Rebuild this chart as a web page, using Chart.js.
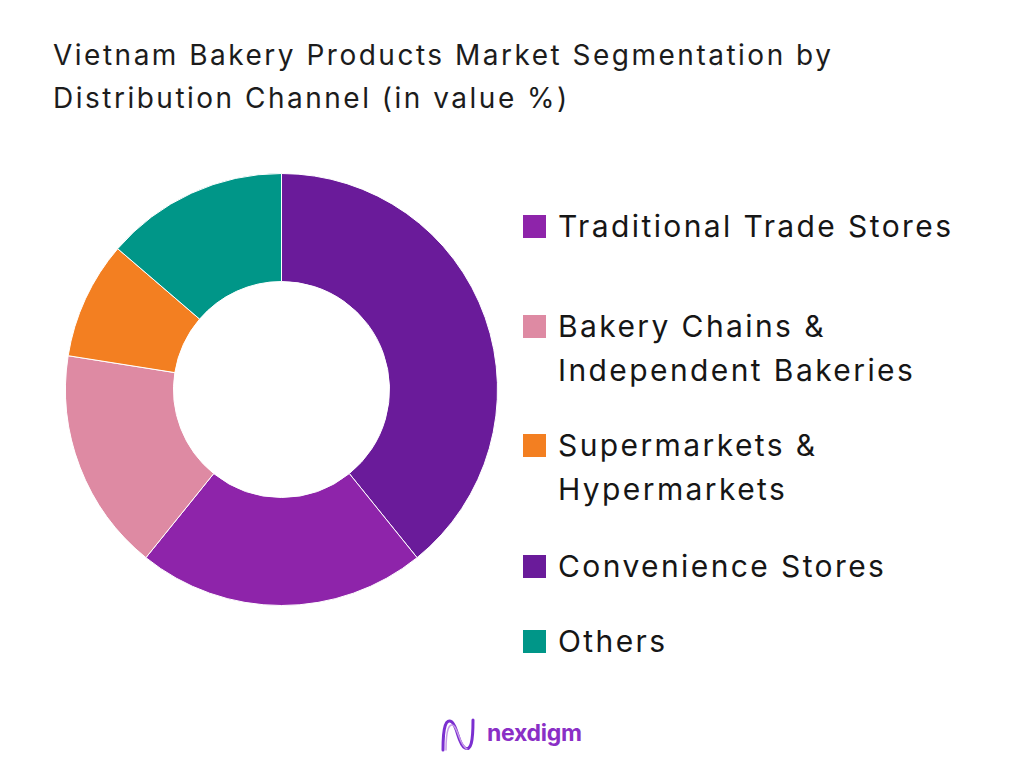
<!DOCTYPE html>
<html>
<head>
<meta charset="utf-8">
<script src="https://cdn.jsdelivr.net/npm/chart.js@4.4.1/dist/chart.umd.min.js"></script>
<style>
  html, body { margin: 0; padding: 0; background: #fff; }
  body { width: 1024px; height: 768px; position: relative; overflow: hidden; font-family: Inter, "Open Sans", sans-serif; }
  #title { position: absolute; left: 53px; top: 34px; font-size: 28px; line-height: 43px; color: #1c1c1c; letter-spacing: 2.5px; }
  #chartBox { position: absolute; left: 65px; top: 173px; width: 433px; height: 433px; }
  .lg { position: absolute; left: 523px; font-size: 30px; line-height: 44px; color: #161616; letter-spacing: 2.4px; white-space: nowrap; }
  .lg .sw { position: absolute; left: 0; top: 11px; width: 23px; height: 23px; }
  .lg .tx { margin-left: 35px; }
  #logo { position: absolute; left: 440px; top: 716px; height: 40px; }
  #logo span { position: absolute; left: 47px; top: 3px; font-size: 23px; font-weight: 700; color: #8a2fc6; letter-spacing: -0.3px; }
</style>
</head>
<body>
<div id="title">Vietnam Bakery Products Market Segmentation by<br>Distribution Channel (in value %)</div>
<div id="chartBox"><canvas id="donut"></canvas></div>
<div id="legend"></div>
<div id="logo">
  <svg width="36" height="38" viewBox="0 0 36 38">
    <path d="M3 34 C3 10, 6 2, 12 6 C18 12, 18 28, 25 32 C31 35, 33 26, 33 4" fill="none" stroke="#7b2fd0" stroke-width="3" stroke-linecap="round"/>
    <path d="M6 34 C6 14, 9 6, 14 10 C19 16, 20 30, 27 33" fill="none" stroke="#c79be8" stroke-width="1.5" stroke-linecap="round"/>
  </svg>
  <span>nexdigm</span>
</div>
<script>
// slices in drawing order (clockwise from 12 o'clock)
var channels = ["Convenience Stores", "Traditional Trade Stores", "Bakery Chains & Independent Bakeries", "Supermarkets & Hypermarkets", "Others"];
var shares = [39.2, 21.6, 16.7, 8.8, 13.7];
var colors = ["#6a1b9a", "#8e24aa", "#de8aa3", "#f37f21", "#009688"];

// legend shows the channels in this order, some labels wrap to two lines
var legendOrder = ["Traditional Trade Stores", "Bakery Chains & Independent Bakeries", "Supermarkets & Hypermarkets", "Convenience Stores", "Others"];
var legendLines = {
  "Bakery Chains & Independent Bakeries": ["Bakery Chains &", "Independent Bakeries"],
  "Supermarkets & Hypermarkets": ["Supermarkets &", "Hypermarkets"]
};
var legendTops = [204, 304, 423, 544, 619];

var donut = new Chart("donut", {
  type: "doughnut",
  data: {
    labels: channels,
    datasets: [{
      data: shares,
      backgroundColor: colors,
      borderColor: "#ffffff",
      borderWidth: 1,
      hoverOffset: 0
    }]
  },
  options: {
    responsive: true,
    maintainAspectRatio: false,
    animation: false,
    cutout: "50%",
    layout: { padding: 0 },
    plugins: {
      legend: { display: false },
      tooltip: { enabled: false }
    }
  }
});

var legendDiv = document.getElementById("legend");
legendOrder.forEach(function (name, i) {
  var idx = donut.data.labels.indexOf(name);
  var item = document.createElement("div");
  item.className = "lg";
  item.style.top = legendTops[i] + "px";
  var sw = document.createElement("div");
  sw.className = "sw";
  sw.style.background = donut.data.datasets[0].backgroundColor[idx];
  var tx = document.createElement("div");
  tx.className = "tx";
  tx.innerHTML = (legendLines[name] || [name]).join("<br>").replace(/&(?!lt;|gt;|amp;)/g, "&amp;");
  item.appendChild(sw);
  item.appendChild(tx);
  legendDiv.appendChild(item);
});
</script>
</body>
</html>
